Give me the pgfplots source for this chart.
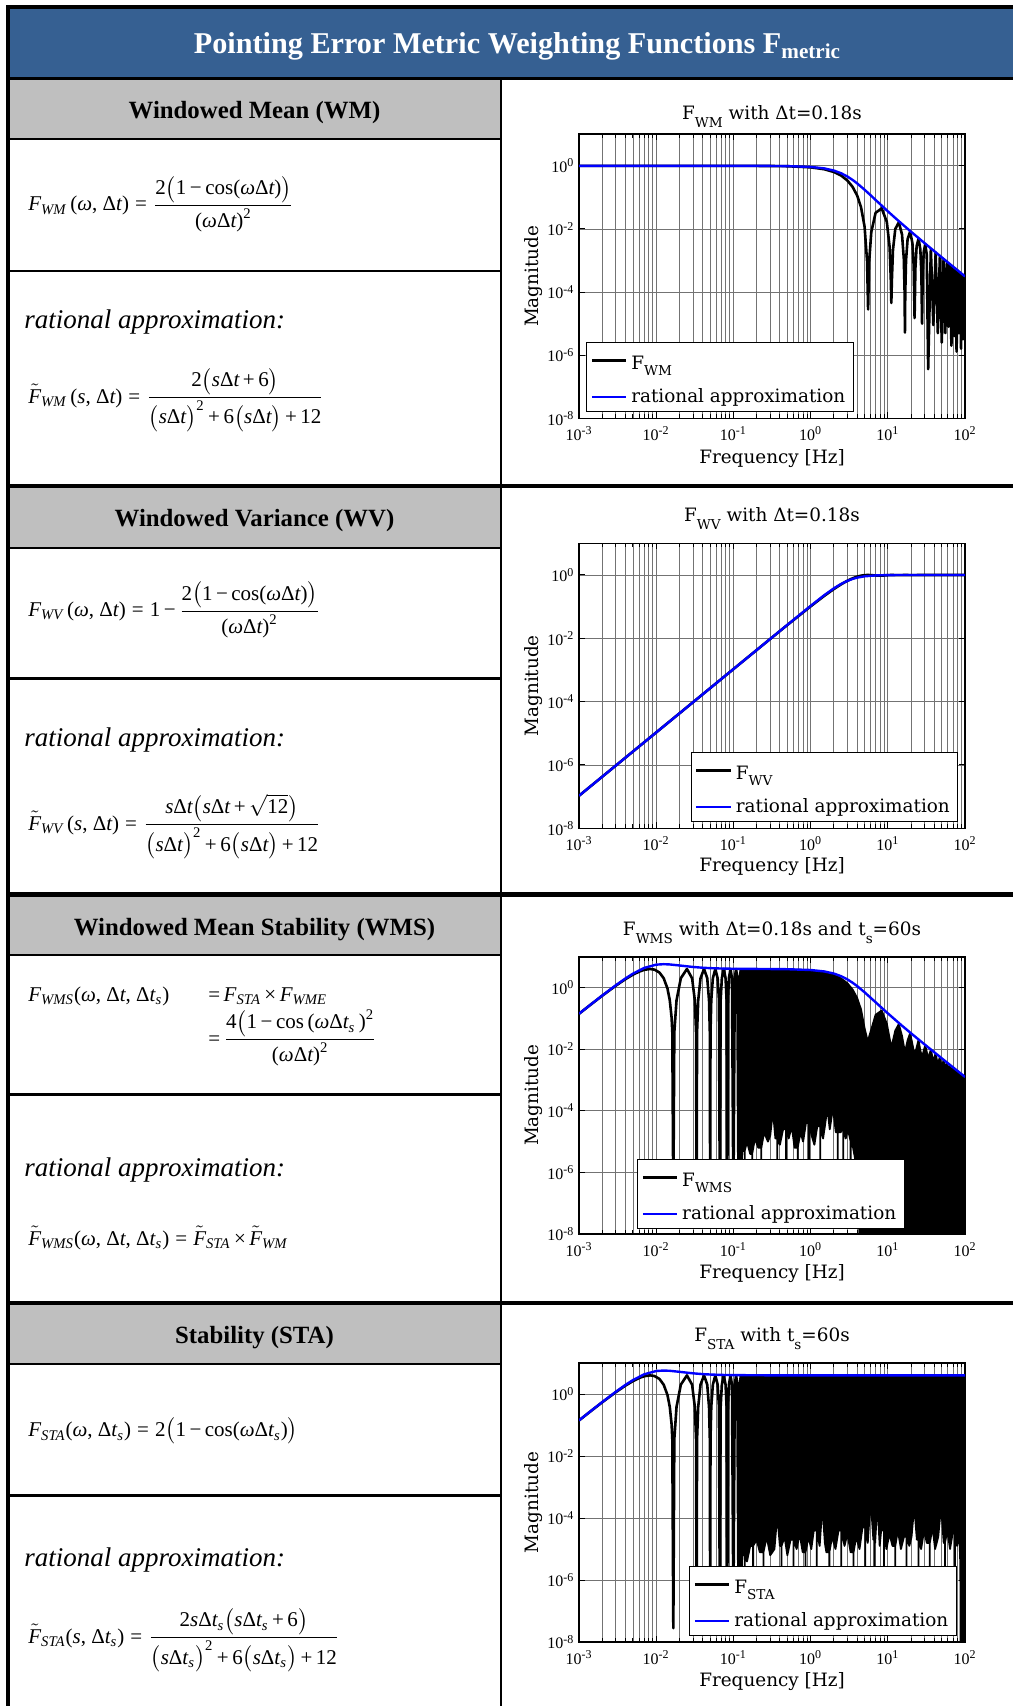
\documentclass[border=0pt]{standalone}
\usepackage{amsmath}
\usepackage{fontspec}
\setmainfont{DejaVu Serif}
\newfontfamily\tms{Liberation Serif}
\usepackage{pgfplots}
\pgfplotsset{compat=1.18}
\definecolor{hdrblue}{RGB}{54,96,146}
\definecolor{hdrgray}{RGB}{191,191,191}
\newcommand{\pf}{\fontsize{9.2}{11}\selectfont}
\newcommand{\hf}{\tms\bfseries\fontsize{12.4}{15}\selectfont}
\newcommand{\ff}{\tms\fontsize{10.5}{12.6}\selectfont}
\newcommand{\rf}{\tms\itshape\fontsize{13.5}{16}\selectfont}
\newcommand{\titf}{\tms\bfseries\fontsize{15.1}{18}\selectfont}
\newcommand{\tf}{\tms\fontsize{8}{9}\selectfont}
\newcommand{\tx}[1]{\text{#1}}
\newcommand{\ti}[1]{\text{\itshape #1}}
\newcommand{\sub}[2][-4pt]{\raisebox{#1}{\fontsize{6.8}{8}\selectfont #2}}
\newcommand{\lstrut}{\rule{0pt}{10.5pt}}
\newcommand{\tp}[1]{10\textsuperscript{#1}}
\begin{document}
\begin{tikzpicture}
\useasboundingbox (0pt,0pt) rectangle (506.5pt,-853pt);
\begin{scope}[x=0.5pt,y=-0.5pt]
\fill[white] (0,0) rectangle (1013,1706);
\fill[hdrblue] (10,9) rectangle (1013,77);
\fill[black] (6,5) rectangle (1013,9);
\fill[black] (6,5) rectangle (10,1706);
\fill[black] (6,77) rectangle (1013,80);
\fill[hdrgray] (10,80) rectangle (500,138);
\fill[hdrgray] (10,488) rectangle (500,546.7);
\fill[hdrgray] (10,896.5) rectangle (500,954);
\fill[hdrgray] (10,1305) rectangle (500,1362.7);
\fill[black] (10,138) rectangle (500,140.5);
\fill[black] (10,270) rectangle (500,272.3);
\fill[black] (10,546.7) rectangle (500,549);
\fill[black] (10,677.3) rectangle (500,679.7);
\fill[black] (10,954) rectangle (500,956.3);
\fill[black] (10,1093.3) rectangle (500,1095.7);
\fill[black] (10,1362.7) rectangle (500,1364.5);
\fill[black] (10,1494) rectangle (500,1496.7);
\fill[black] (6,484) rectangle (1013,488);
\fill[black] (6,892) rectangle (1013,896.5);
\fill[black] (6,1300.5) rectangle (1013,1305);
\fill[black] (499.5,80) rectangle (501.5,1706);
\node[anchor=base, text=white, font=\titf, inner sep=0pt] at (517.5,53.3) {Pointing Error Metric Weighting Functions F$_{\text{metric}}$};
\node[anchor=base, font=\hf, inner sep=0pt] at (254.5,119) {Windowed Mean (WM)};
\node[anchor=base, font=\hf, inner sep=0pt] at (254.5,526.7) {Windowed Variance (WV)};
\node[anchor=base, font=\hf, inner sep=0pt] at (254.5,935) {Windowed Mean Stability (WMS)};
\node[anchor=base, font=\hf, inner sep=0pt] at (254.5,1343.3) {Stability (STA)};
\node[anchor=base west, font=\rf, inner sep=0pt] at (24,328.3) {rational approximation:};
\node[anchor=base west, font=\rf, inner sep=0pt] at (24,746.7) {rational approximation:};
\node[anchor=base west, font=\rf, inner sep=0pt] at (24,1176.7) {rational approximation:};
\node[anchor=base west, font=\rf, inner sep=0pt] at (24,1566.7) {rational approximation:};
\node[anchor=base west, font=\ff, inner sep=0pt] at (28,211) {$\ti{F}_{\ti{WM}}\,\tx{(}\ti{ω}\tx{, Δ}\ti{t}\tx{)}\mathrel{\tx{=}}\dfrac{\tx{2}\bigl(\tx{1\,−\,cos(}\ti{ω}\tx{Δ}\ti{t}\tx{)}\bigr)}{\tx{(}\ti{ω}\tx{Δ}\ti{t}\tx{)}^{\tx{2}}}$};
\node[anchor=base west, font=\ff, inner sep=0pt] at (28,403) {$\tilde{\ti{F}}_{\ti{WM}}\,\tx{(}\ti{s}\tx{, Δ}\ti{t}\tx{)}\mathrel{\tx{=}}\dfrac{\tx{2}\bigl(\ti{s}\tx{Δ}\ti{t}\tx{\,+\,6}\bigr)}{\bigl(\ti{s}\tx{Δ}\ti{t}\bigr)^{\tx{2}}\tx{\,+\,6}\bigl(\ti{s}\tx{Δ}\ti{t}\bigr)\tx{\,+\,12}}$};
\node[anchor=base west, font=\ff, inner sep=0pt] at (28,616.7) {$\ti{F}_{\ti{WV}}\,\tx{(}\ti{ω}\tx{, Δ}\ti{t}\tx{)}\mathrel{\tx{=}}\tx{1\,−\,}\dfrac{\tx{2}\bigl(\tx{1\,−\,cos(}\ti{ω}\tx{Δ}\ti{t}\tx{)}\bigr)}{\tx{(}\ti{ω}\tx{Δ}\ti{t}\tx{)}^{\tx{2}}}$};
\node[anchor=base west, font=\ff, inner sep=0pt] at (28,830) {$\tilde{\ti{F}}_{\ti{WV}}\,\tx{(}\ti{s}\tx{, Δ}\ti{t}\tx{)}\mathrel{\tx{=}}\dfrac{\ti{s}\tx{Δ}\ti{t}\bigl(\ti{s}\tx{Δ}\ti{t}\tx{\,+\,}\sqrt{\tx{12}}\bigr)}{\bigl(\ti{s}\tx{Δ}\ti{t}\bigr)^{\tx{2}}\tx{\,+\,6}\bigl(\ti{s}\tx{Δ}\ti{t}\bigr)\tx{\,+\,12}}$};
\node[anchor=base west, font=\ff, inner sep=0pt] at (28,1001.7) {$\ti{F}_{\ti{WMS}}\tx{(}\ti{ω}\tx{, Δ}\ti{t}\tx{, Δ}\ti{t}_{\ti{s}}\tx{)}$};
\node[anchor=base west, font=\ff, inner sep=0pt] at (208,1001.7) {$\tx{=\,}\ti{F}_{\ti{STA}}\tx{\,×\,}\ti{F}_{\ti{WME}}$};
\node[anchor=base west, font=\ff, inner sep=0pt] at (208,1045) {$\tx{=\,}\dfrac{\tx{4}\bigl(\tx{1\,−\,cos\,(}\ti{ω}\tx{Δ}\ti{t}_{\ti{s}}\tx{\,)}^{\tx{2}}}{\tx{(}\ti{ω}\tx{Δ}\ti{t}\tx{)}^{\tx{2}}}$};
\node[anchor=base west, font=\ff, inner sep=0pt] at (28,1245) {$\tilde{\ti{F}}_{\ti{WMS}}\tx{(}\ti{ω}\tx{, Δ}\ti{t}\tx{, Δ}\ti{t}_{\ti{s}}\tx{)}\mathrel{\tx{=}}\tilde{\ti{F}}_{\ti{STA}}\tx{\,×\,}\tilde{\ti{F}}_{\ti{WM}}$};
\node[anchor=base west, font=\ff, inner sep=0pt] at (28,1436.7) {$\ti{F}_{\ti{STA}}\tx{(}\ti{ω}\tx{, Δ}\ti{t}_{\ti{s}}\tx{)}\mathrel{\tx{=}}\tx{2}\bigl(\tx{1\,−\,cos(}\ti{ω}\tx{Δ}\ti{t}_{\ti{s}}\tx{)}\bigr)$};
\node[anchor=base west, font=\ff, inner sep=0pt] at (28,1643) {$\tilde{\ti{F}}_{\ti{STA}}\tx{(}\ti{s}\tx{, Δ}\ti{t}_{\ti{s}}\tx{)}\mathrel{\tx{=}}\dfrac{\tx{2}\ti{s}\tx{Δ}\ti{t}_{\ti{s}}\bigl(\ti{s}\tx{Δ}\ti{t}_{\ti{s}}\tx{\,+\,6}\bigr)}{\bigl(\ti{s}\tx{Δ}\ti{t}_{\ti{s}}\bigr)^{\tx{2}}\tx{\,+\,6}\bigl(\ti{s}\tx{Δ}\ti{t}_{\ti{s}}\bigr)\tx{\,+\,12}}$};
\end{scope}

%================ WM
\begin{axis}[scale only axis, width=193pt, height=142pt,
  at={(289.5pt,-209.15pt)}, anchor=south west,
  xmode=log, ymode=log, xmin=1e-3, xmax=1e2, ymin=1e-8, ymax=1e1,
  xtick={1e-3,1e-2,1e-1,1,10,100},
  xticklabels={\tp{-3},\tp{-2},\tp{-1},\tp{0},\tp{1},\tp{2}},
  minor xtick={0.002,0.003,0.004,0.005,0.006,0.007,0.008,0.009,0.02,0.03,0.04,0.05,0.06,0.07,0.08,0.09,0.2,0.3,0.4,0.5,0.6,0.7,0.8,0.9,2,3,4,5,6,7,8,9,20,30,40,50,60,70,80,90},
  ytick={1e-8,1e-6,1e-4,1e-2,1}, yminorticks=false,
  yticklabels={\tp{-8},\tp{-6},\tp{-4},\tp{-2},\tp{0}},
  xmajorgrids=true, xminorgrids=true, ymajorgrids=true,
  major grid style={black!55, line width=0.45pt},
  minor grid style={black!55, line width=0.45pt},
  axis line style={line width=0.8pt},
  tick style={black, line width=0.5pt}, major tick length=3pt, minor tick length=2pt,
  tick label style={font=\tf},
  yticklabel style={xshift=1.2pt}, xticklabel style={yshift=-0.8pt},
  xlabel={Frequency [Hz]}, ylabel={Magnitude}, label style={font=\pf},
  xlabel style={at={(axis description cs:0.5,-0.158)}, anchor=base},
  ylabel style={at={(axis description cs:-0.119,0.5)}, anchor=center},
  every axis title shift=0pt,
  title={F\sub{WM} with Δt=0.18s}, title style={font=\pf, at={(0.5,1.053)}, anchor=base},
  legend cell align=left,
  legend style={draw=black, line width=0.6pt, fill=white, font=\pf, at={(axis description cs:0.018,0.268)}, anchor=north west, inner xsep=2pt, inner ysep=1pt, row sep=4pt}]
\addlegendimage{black,line width=1.3pt}\addlegendentry{\lstrut F\sub[-3pt]{WM}}
\addlegendimage{blue,line width=1.2pt}\addlegendentry{rational approximation}
\addplot[black,line width=1.3pt,line join=round,forget plot] coordinates {
(0.001,1) (0.1,0.99893) (0.3,0.9904) (0.5,0.9737) (1,0.89816) (1.5,0.78197) (2,0.6401) (2.5,0.48814) (3,0.34199) (3.5,0.21523) (4,0.11613) (4.5,0.0488) (5,0.011944) (5.389,9.54e-4) (5.556,2.8e-5) (5.722,8.46e-4) (6.111,0.0080) (6.944,0.03242) (8.333,0.04503) (9.722,0.01654) (10.556,0.00268) (10.944,2.31e-4) (11.111,4.5e-5) (11.278,2.18e-4) (11.667,0.002194) (12.5,0.010007) (13.889,0.016211) (15.278,0.0066988) (16.111,0.0011506) (16.5,1.02e-4) (16.667,5.2e-6) (16.833,9.8e-5) (17.222,0.001007) (18.056,0.004796) (19.444,0.008271) (20.833,0.003603) (21.667,6.36e-4) (22.222,1.5e-5) (22.778,5.76e-4) (23.611,0.002805) (25,0.005004) (26.389,0.002245) (27.222,4.03e-4) (27.778,1.0e-5) (28.333,3.72e-4) (29.167,0.001838) (30.556,0.00335) (31.944,0.001532) (33.333,3.6e-7) (36.111,0.0024) (38.889,9e-6) (41.667,0.0018) (44.444,5e-6) (47.222,0.0014) (50,2.5e-6) (52.778,0.00112) (55.556,5e-6) (58.333,0.00092) (61.111,8e-6) (63.889,0.000766) (66.667,2e-6) (69.444,0.000649) (72.222,4e-6) (75,0.000556) (77.778,1.3e-6) (80.556,0.000482) (83.333,5e-6) (86.111,0.000422) (88.889,1.6e-6) (91.667,0.000372) (94.444,3.2e-6) (97.222,0.000331) (100,1e-5)
};
\addplot[blue,line width=1.2pt,line join=round,forget plot] coordinates {
(0.001,1) (0.1,0.99929) (0.3,0.99357) (0.5,0.98202) (1,0.92627) (1.5,0.83242) (2,0.71021) (2.5,0.5792) (3,0.45832) (3.5,0.35785) (4,0.27938) (5,0.1754) (6,0.11651) (7,0.08181) (10,0.036344) (12,0.02428) (15,0.014986) (20,0.008172) (30,0.003546) (50,0.0012602) (70,6.406e-4) (100,3.133e-4)
};
\end{axis}

%================ WV
\begin{axis}[scale only axis, width=193pt, height=142.5pt,
  at={(289.5pt,-414.15pt)}, anchor=south west,
  xmode=log, ymode=log, xmin=1e-3, xmax=1e2, ymin=1e-8, ymax=1e1,
  xtick={1e-3,1e-2,1e-1,1,10,100},
  xticklabels={\tp{-3},\tp{-2},\tp{-1},\tp{0},\tp{1},\tp{2}},
  minor xtick={0.002,0.003,0.004,0.005,0.006,0.007,0.008,0.009,0.02,0.03,0.04,0.05,0.06,0.07,0.08,0.09,0.2,0.3,0.4,0.5,0.6,0.7,0.8,0.9,2,3,4,5,6,7,8,9,20,30,40,50,60,70,80,90},
  ytick={1e-8,1e-6,1e-4,1e-2,1}, yminorticks=false,
  yticklabels={\tp{-8},\tp{-6},\tp{-4},\tp{-2},\tp{0}},
  xmajorgrids=true, xminorgrids=true, ymajorgrids=true,
  major grid style={black!55, line width=0.45pt},
  minor grid style={black!55, line width=0.45pt},
  axis line style={line width=0.8pt},
  tick style={black, line width=0.5pt}, major tick length=3pt, minor tick length=2pt,
  tick label style={font=\tf},
  yticklabel style={xshift=1.2pt}, xticklabel style={yshift=-0.8pt},
  xlabel={Frequency [Hz]}, ylabel={Magnitude}, label style={font=\pf},
  xlabel style={at={(axis description cs:0.5,-0.150)}, anchor=base},
  ylabel style={at={(axis description cs:-0.119,0.5)}, anchor=center},
  every axis title shift=0pt,
  title={F\sub{WV} with Δt=0.18s}, title style={font=\pf, at={(0.5,1.077)}, anchor=base},
  legend cell align=left,
  legend style={draw=black, line width=0.6pt, fill=white, font=\pf, at={(axis description cs:0.289,0.268)}, anchor=north west, inner xsep=2pt, inner ysep=1pt, row sep=4pt}]
\addlegendimage{black,line width=1.3pt}\addlegendentry{\lstrut F\sub[-3pt]{WV}}
\addlegendimage{blue,line width=1.2pt}\addlegendentry{rational approximation}
\addplot[black,line width=1.3pt,line join=round,forget plot] coordinates {
(0.001,1.0659e-7) (0.01,1.0659e-5) (0.1,0.0010655) (0.3,0.009557) (0.5,0.02636) (1,0.10184) (1.5,0.21803) (2,0.3599) (2.5,0.51186) (3,0.65801) (3.5,0.78477) (4,0.88387) (4.5,0.9512) (5,0.98806) (5.556,1.0) (7,0.96608) (8.333,0.95497) (11.111,1.0) (13.889,0.98379) (16.667,1.0) (19.444,0.99173) (25,0.995) (100,0.9997)
};
\addplot[blue,line width=1.2pt,line join=round,forget plot] coordinates {
(0.001,1.0659e-7) (0.01,1.0659e-5) (0.1,0.0010659) (0.3,0.0095925) (0.5,0.026632) (1,0.10551) (1.5,0.2292) (2,0.37817) (2.5,0.52608) (3,0.65274) (3.5,0.75067) (4,0.82188) (5,0.90711) (7,0.97015) (10,0.99203) (20,0.99946) (100,1.0)
};
\end{axis}

%================ WMS
\begin{axis}[scale only axis, width=193pt, height=138.65pt,
  at={(289.5pt,-617pt)}, anchor=south west,
  xmode=log, ymode=log, xmin=1e-3, xmax=1e2, ymin=1e-8, ymax=1e1,
  xtick={1e-3,1e-2,1e-1,1,10,100},
  xticklabels={\tp{-3},\tp{-2},\tp{-1},\tp{0},\tp{1},\tp{2}},
  minor xtick={0.002,0.003,0.004,0.005,0.006,0.007,0.008,0.009,0.02,0.03,0.04,0.05,0.06,0.07,0.08,0.09,0.2,0.3,0.4,0.5,0.6,0.7,0.8,0.9,2,3,4,5,6,7,8,9,20,30,40,50,60,70,80,90},
  ytick={1e-8,1e-6,1e-4,1e-2,1}, yminorticks=false,
  yticklabels={\tp{-8},\tp{-6},\tp{-4},\tp{-2},\tp{0}},
  xmajorgrids=true, xminorgrids=true, ymajorgrids=true,
  major grid style={black!55, line width=0.45pt},
  minor grid style={black!55, line width=0.45pt},
  axis line style={line width=0.8pt},
  tick style={black, line width=0.5pt}, major tick length=3pt, minor tick length=2pt,
  tick label style={font=\tf},
  yticklabel style={xshift=1.2pt}, xticklabel style={yshift=-0.8pt},
  xlabel={Frequency [Hz]}, ylabel={Magnitude}, label style={font=\pf},
  xlabel style={at={(axis description cs:0.5,-0.159)}, anchor=base},
  ylabel style={at={(axis description cs:-0.119,0.5)}, anchor=center},
  every axis title shift=0pt,
  title={F\sub{WMS} with Δt=0.18s and t\sub{s}=60s}, title style={font=\pf, at={(0.5,1.078)}, anchor=base},
  legend cell align=left,
  legend style={draw=black, line width=0.6pt, fill=white, font=\pf, at={(axis description cs:0.150,0.270)}, anchor=north west, inner xsep=2pt, inner ysep=1pt, row sep=4pt}]
\addlegendimage{black,line width=1.3pt}\addlegendentry{\lstrut F\sub[-3pt]{WMS}}
\addlegendimage{blue,line width=1.2pt}\addlegendentry{rational approximation}
\addplot[black,line width=1.3pt,line join=round,forget plot] coordinates {
(0.001,0.1404) (0.0015,0.3113) (0.002,0.5421) (0.003,1.1485) (0.004,1.8745) (0.005,2.618) (0.006,3.2748) (0.007,3.7526) (0.008333,4.0) (0.0095,3.8097) (0.011,3.0717) (0.0125,2.0) (0.014,0.9283) (0.015,0.382) (0.01583,0.1058) (0.016167,0.0354) (0.016667,1e-7) (0.017167,0.0354) (0.018333,0.382) (0.020833,2.0) (0.025,4.0) (0.029167,2.0) (0.031667,0.382) (0.032833,0.0354) (0.033333,1e-7) (0.033833,0.0354) (0.035,0.382) (0.0375,2.0) (0.041667,4.0) (0.045833,2.0) (0.048333,0.382) (0.0495,0.0354) (0.05,1e-7) (0.0505,0.0354) (0.051667,0.382) (0.054167,2.0) (0.058333,4.0) (0.0625,2.0) (0.065,0.382) (0.066667,1e-7) (0.068333,0.382) (0.070833,2.0) (0.075,4.0) (0.079167,2.0) (0.081667,0.382) (0.083333,1e-7) (0.085,0.382) (0.0875,2.0) (0.091667,4.0) (0.095833,2.0) (0.1,1e-7) (0.104167,2.0) (0.108333,4.0) (0.1125,2.0) (0.116667,1e-7) (0.120833,2.0) (0.125,4.0)
};
\addplot[black,fill=black,line width=0.9pt,line join=round,forget plot] coordinates {
(0.125,4.0) (0.3,3.9616) (0.5,3.8946) (1,3.5926) (1.5,3.1279) (2,2.5604) (2.5,1.9526) (3,1.368) (3.5,0.8609) (4,0.4645) (4.5,0.1952) (5,0.04778) (5.5,0.0178) (6.944,0.1297) (8.333,0.1801) (9.722,0.0662) (11.11,0.0112) (12.5,0.04003) (13.889,0.06484) (15.278,0.0268) (16.67,0.00794) (18.056,0.01918) (19.444,0.03308) (20.833,0.01441) (22.22,0.00631) (23.611,0.01122) (25,0.02) (26.389,0.00898) (27.78,0.00562) (30.556,0.0134) (33.33,0.00501) (36.111,0.0096) (38.89,0.00398) (41.667,0.00721) (44.44,0.00316) (47.222,0.00561) (50,0.00251) (52.778,0.00449) (55.56,0.00224) (58.333,0.00367) (61.11,0.002) (63.889,0.00306) (66.67,0.00166) (69.444,0.00259) (72.22,0.00141) (75,0.00222) (77.78,0.00126) (80.556,0.00193) (83.33,0.00112) (86.111,0.00169) (88.89,0.001) (91.667,0.00149) (94.44,0.00089) (97.222,0.001324) (100,0.0011)
(100,1e-9) (4.4,1e-9) (4.1,4e-7) (3.8,2.5e-6) (3.55,6.3e-6) (3.3,1e-5) (3.3,1e-7) (3.3,1e-5) (3.05,2.5e-5) (2.85,1.26e-5) (2.65,3.16e-5) (2.65,1e-7) (2.65,3.16e-5) (2.45,2.0e-5) (2.25,2.0e-5) (2.25,1e-7) (2.25,2.0e-5) (2.12,2.0e-5) (1.95,1.26e-4) (1.77,2.5e-5) (1.65,1.26e-4) (1.53,3.16e-5) (1.45,1.26e-5) (1.33,3.16e-5) (1.33,1e-7) (1.33,3.16e-5) (1.22,3.16e-5) (1.12,7.9e-6) (1.03,1.58e-5) (0.95,4.0e-5) (0.95,1e-7) (0.95,4.0e-5) (0.87,4.0e-5) (0.8,1e-5) (0.74,2.0e-5) (0.68,6.3e-6) (0.68,1e-7) (0.68,6.3e-6) (0.62,6.3e-6) (0.57,3.16e-5) (0.52,1.26e-5) (0.48,2.5e-5) (0.48,1e-7) (0.48,2.5e-5) (0.44,2.5e-5) (0.40,7.9e-6) (0.37,1.26e-5) (0.37,1e-7) (0.37,1.26e-5) (0.35,1.26e-5) (0.325,1.0e-4) (0.30,1.58e-5) (0.28,1e-5) (0.25,2.0e-5) (0.23,6.3e-6) (0.23,1e-7) (0.23,6.3e-6) (0.21,6.3e-6) (0.19,1.26e-5) (0.175,3.98e-6) (0.175,1e-7) (0.175,3.98e-6) (0.165,3.98e-6) (0.15,1e-5) (0.14,5.0e-6) (0.14,1e-7) (0.14,5.0e-6) (0.13,5.0e-6) (0.125,1e-7)
} -- cycle;
\addplot[blue,line width=1.2pt,line join=round,forget plot] coordinates {
(0.001,0.1408) (0.0015,0.314) (0.002,0.5502) (0.003,1.1848) (0.004,1.9729) (0.005,2.8211) (0.007,4.335) (0.01,5.526) (0.0125,5.722) (0.015,5.609) (0.02,5.203) (0.03,4.649) (0.04,4.389) (0.05,4.257) (0.07,4.134) (0.1,4.064) (0.3,3.98) (0.5,3.93) (1,3.705) (1.5,3.327) (2,2.844) (2.5,2.317) (3,1.832) (3.5,1.432) (4,1.117) (5,0.7016) (7,0.3272) (10,0.1454) (15,0.05994) (20,0.03269) (30,0.01418) (50,0.005041) (70,0.002562) (100,0.001253)
};
\end{axis}

%================ STA
\begin{axis}[scale only axis, width=193pt, height=139.5pt,
  at={(289.5pt,-821pt)}, anchor=south west,
  xmode=log, ymode=log, xmin=1e-3, xmax=1e2, ymin=1e-8, ymax=1e1,
  xtick={1e-3,1e-2,1e-1,1,10,100},
  xticklabels={\tp{-3},\tp{-2},\tp{-1},\tp{0},\tp{1},\tp{2}},
  minor xtick={0.002,0.003,0.004,0.005,0.006,0.007,0.008,0.009,0.02,0.03,0.04,0.05,0.06,0.07,0.08,0.09,0.2,0.3,0.4,0.5,0.6,0.7,0.8,0.9,2,3,4,5,6,7,8,9,20,30,40,50,60,70,80,90},
  ytick={1e-8,1e-6,1e-4,1e-2,1}, yminorticks=false,
  yticklabels={\tp{-8},\tp{-6},\tp{-4},\tp{-2},\tp{0}},
  xmajorgrids=true, xminorgrids=true, ymajorgrids=true,
  major grid style={black!55, line width=0.45pt},
  minor grid style={black!55, line width=0.45pt},
  axis line style={line width=0.8pt},
  tick style={black, line width=0.5pt}, major tick length=3pt, minor tick length=2pt,
  tick label style={font=\tf},
  yticklabel style={xshift=1.2pt}, xticklabel style={yshift=-0.8pt},
  xlabel={Frequency [Hz]}, ylabel={Magnitude}, label style={font=\pf},
  xlabel style={at={(axis description cs:0.5,-0.160)}, anchor=base},
  ylabel style={at={(axis description cs:-0.119,0.5)}, anchor=center},
  every axis title shift=0pt,
  title={F\sub{STA} with t\sub{s}=60s}, title style={font=\pf, at={(0.5,1.076)}, anchor=base},
  legend cell align=left,
  legend style={draw=black, line width=0.6pt, fill=white, font=\pf, at={(axis description cs:0.285,0.272)}, anchor=north west, inner xsep=2pt, inner ysep=1pt, row sep=4pt}]
\addlegendimage{black,line width=1.3pt}\addlegendentry{\lstrut F\sub[-3pt]{STA}}
\addlegendimage{blue,line width=1.2pt}\addlegendentry{rational approximation}
\addplot[black,line width=1.3pt,line join=round,forget plot] coordinates {
(0.001,0.1404) (0.0015,0.3113) (0.002,0.5421) (0.003,1.1485) (0.004,1.8745) (0.005,2.618) (0.006,3.2748) (0.007,3.7526) (0.008333,4.0) (0.0095,3.8097) (0.011,3.0717) (0.0125,2.0) (0.014,0.9283) (0.015,0.382) (0.01583,0.1058) (0.016167,0.0354) (0.016667,2.8e-8) (0.017167,0.0354) (0.018333,0.382) (0.020833,2.0) (0.025,4.0) (0.029167,2.0) (0.031667,0.382) (0.032833,0.0354) (0.033333,1e-7) (0.033833,0.0354) (0.035,0.382) (0.0375,2.0) (0.041667,4.0) (0.045833,2.0) (0.048333,0.382) (0.0495,0.0354) (0.05,1e-7) (0.0505,0.0354) (0.051667,0.382) (0.054167,2.0) (0.058333,4.0) (0.0625,2.0) (0.065,0.382) (0.066667,1e-7) (0.068333,0.382) (0.070833,2.0) (0.075,4.0) (0.079167,2.0) (0.081667,0.382) (0.083333,1e-7) (0.085,0.382) (0.0875,2.0) (0.091667,4.0) (0.095833,2.0) (0.1,1e-7) (0.104167,2.0) (0.108333,4.0) (0.1125,2.0) (0.116667,1e-7) (0.120833,2.0) (0.125,4.0)
};
\addplot[black,fill=black,line width=0.9pt,line join=round,forget plot] coordinates {
(0.125,4.0) (100,4.0) (100,1e-9) (88,1e-9) (87,3.16e-6) (84,4.0e-5) (79,1.26e-5) (74,3.16e-5) (74,1e-7) (74,3.16e-5) (69,3.16e-5) (64,1e-5) (59,4.0e-5) (55,1.58e-5) (55,1e-7) (55,1.58e-5) (53,1.58e-5) (49,2.5e-4) (45,2.5e-5) (41,1e-5) (38,5.0e-5) (35,1.58e-5) (35,1e-7) (35,1.58e-5) (32,1.58e-5) (29.5,4.0e-5) (27,1e-5) (25,2.0e-5) (25,1e-7) (25,2.0e-5) (23.8,2.0e-5) (22,2.5e-4) (20.3,2.5e-5) (19,1.26e-5) (17.5,2.5e-5) (17.5,1e-7) (17.5,2.5e-5) (16.2,2.5e-5) (14.8,1e-5) (13.5,4.0e-5) (12.5,1.26e-5) (12.5,1e-7) (12.5,1.26e-5) (11.5,1.26e-5) (10.5,3.16e-5) (9.6,1e-5) (8.9,4.0e-5) (8.9,1e-7) (8.9,4.0e-5) (8.2,4.0e-5) (7.85,1.26e-5) (7.35,3.16e-4) (6.85,1.58e-5) (6.7,2.0e-5) (6.7,1e-7) (6.7,2.0e-5) (6.5,2.0e-5) (6.0,4.0e-4) (5.5,1.58e-5) (5.1,5.0e-5) (5.1,1e-7) (5.1,5.0e-5) (4.7,5.0e-5) (4.3,1e-5) (3.9,2.5e-5) (3.6,7.9e-6) (3.6,1e-7) (3.6,7.9e-6) (3.3,7.9e-6) (3.0,3.16e-5) (2.75,1.26e-5) (2.5,4.0e-5) (2.5,1e-7) (2.5,4.0e-5) (2.3,4.0e-5) (2.1,1e-5) (1.9,2.5e-5) (1.75,7.9e-6) (1.75,1e-7) (1.75,7.9e-6) (1.6,7.9e-6) (1.53,1.58e-5) (1.42,2.5e-4) (1.31,1.26e-5) (1.2,4.0e-5) (1.2,1e-7) (1.2,4.0e-5) (1.1,4.0e-5) (1.02,1e-5) (0.94,2.5e-5) (0.86,7.9e-6) (0.86,1e-7) (0.86,7.9e-6) (0.79,7.9e-6) (0.72,3.16e-5) (0.66,1e-5) (0.6,2.0e-5) (0.6,1e-7) (0.6,2.0e-5) (0.55,2.0e-5) (0.5,6.3e-6) (0.46,2.5e-5) (0.42,1.26e-5) (0.42,1e-7) (0.42,1.26e-5) (0.40,1.26e-5) (0.37,1.26e-4) (0.34,1e-5) (0.3,6.3e-6) (0.27,2.5e-5) (0.245,7.9e-6) (0.245,1e-7) (0.245,7.9e-6) (0.22,7.9e-6) (0.2,2.0e-5) (0.18,1.26e-5) (0.18,1e-7) (0.18,1.26e-5) (0.165,1.26e-5) (0.15,3.98e-6) (0.14,6.3e-6) (0.14,1e-7) (0.14,6.3e-6) (0.13,6.3e-6) (0.125,1e-7)
} -- cycle;
\addplot[blue,line width=1.2pt,line join=round,forget plot] coordinates {
(0.001,0.14099) (0.0015,0.31403) (0.002,0.55017) (0.003,1.18484) (0.004,1.9729) (0.005,2.8211) (0.007,4.3352) (0.01,5.5263) (0.0125,5.722) (0.015,5.6087) (0.02,5.2028) (0.03,4.6488) (0.04,4.3894) (0.05,4.2567) (0.07,4.1343) (0.1,4.0665) (0.3,4.0075) (1,4.0007) (100,4.0)
};
\end{axis}
\end{tikzpicture}
\end{document}
